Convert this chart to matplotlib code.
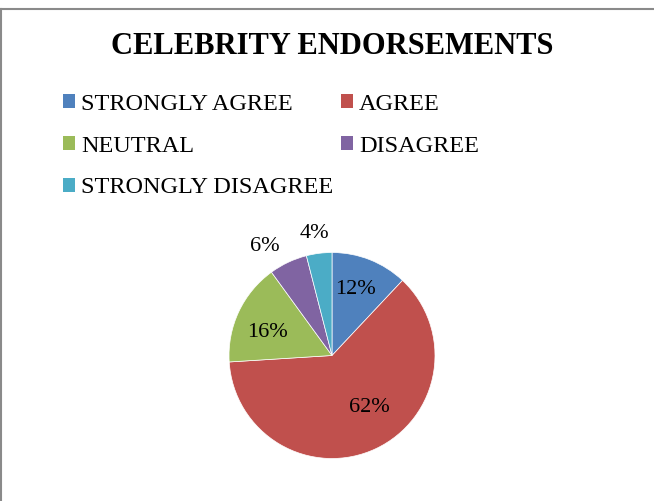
import matplotlib.pyplot as plt
from matplotlib.lines import Line2D
from matplotlib.patches import Patch
import numpy as np

categories = ["STRONGLY AGREE", "AGREE", "NEUTRAL", "DISAGREE", "STRONGLY DISAGREE"]
values = [12, 62, 16, 6, 4]
colors = ["#4F81BD", "#C0504D", "#9BBB59", "#8064A2", "#4BACC6"]
# label placement (radius fraction, angle nudge in degrees) like Excel's best fit
label_dist = [0.683, 0.616, 0.668, 1.245, 1.2]
label_nudge = [2.5, 10.5, 6.0, 6.3, 1.2]

plt.rcParams["font.family"] = ["Liberation Serif", "DejaVu Serif"]

W, H = 654, 501
fig = plt.figure(figsize=(W / 100, H / 100), dpi=100)

# pie: centre (332, 355.5), radius 103 px
cx, cy, r = 332, 355.5, 103
ax = fig.add_axes([(cx - r) / W, 1 - (cy + r) / H, 2 * r / W, 2 * r / H])
wedges, _ = ax.pie(values, colors=colors, startangle=90, counterclock=False,
                   radius=1.0, wedgeprops=dict(edgecolor="white", linewidth=0.5))
ax.set_xlim(-1, 1)
ax.set_ylim(-1, 1)
ax.set_aspect("equal")

for w, v, d, n in zip(wedges, values, label_dist, label_nudge):
    ang = np.deg2rad((w.theta1 + w.theta2) / 2 + n)
    ax.text(d * np.cos(ang), d * np.sin(ang), f"{v}%", ha="center", va="center",
            fontsize=16, color="black", clip_on=False)

fig.text(cx / W, 1 - 47 / H, "CELEBRITY ENDORSEMENTS", ha="center", va="center",
         fontsize=22, fontweight="bold")

handles = [Patch(facecolor=c, edgecolor="none") for c in colors]
order = [0, 2, 4, 1, 3]
fig.legend([handles[i] for i in order], [categories[i] for i in order],
           loc="upper left", bbox_to_anchor=(63 / W, 1 - 94 / H), ncol=2,
           frameon=False, fontsize=17.5, handlelength=0.5, handleheight=0.5,
           handletextpad=0.25, columnspacing=0.3, labelspacing=0.85,
           borderaxespad=0, borderpad=0)

# chart area border (top and left edges visible)
fig.add_artist(Line2D([0, 1], [1 - 9 / H, 1 - 9 / H], color="#8a8a8a", lw=1.5,
                      transform=fig.transFigure))
fig.add_artist(Line2D([1.2 / W, 1.2 / W], [0, 1 - 9 / H], color="#8a8a8a", lw=1.5,
                      transform=fig.transFigure))

fig.savefig("out.png", dpi=100, facecolor="white")
